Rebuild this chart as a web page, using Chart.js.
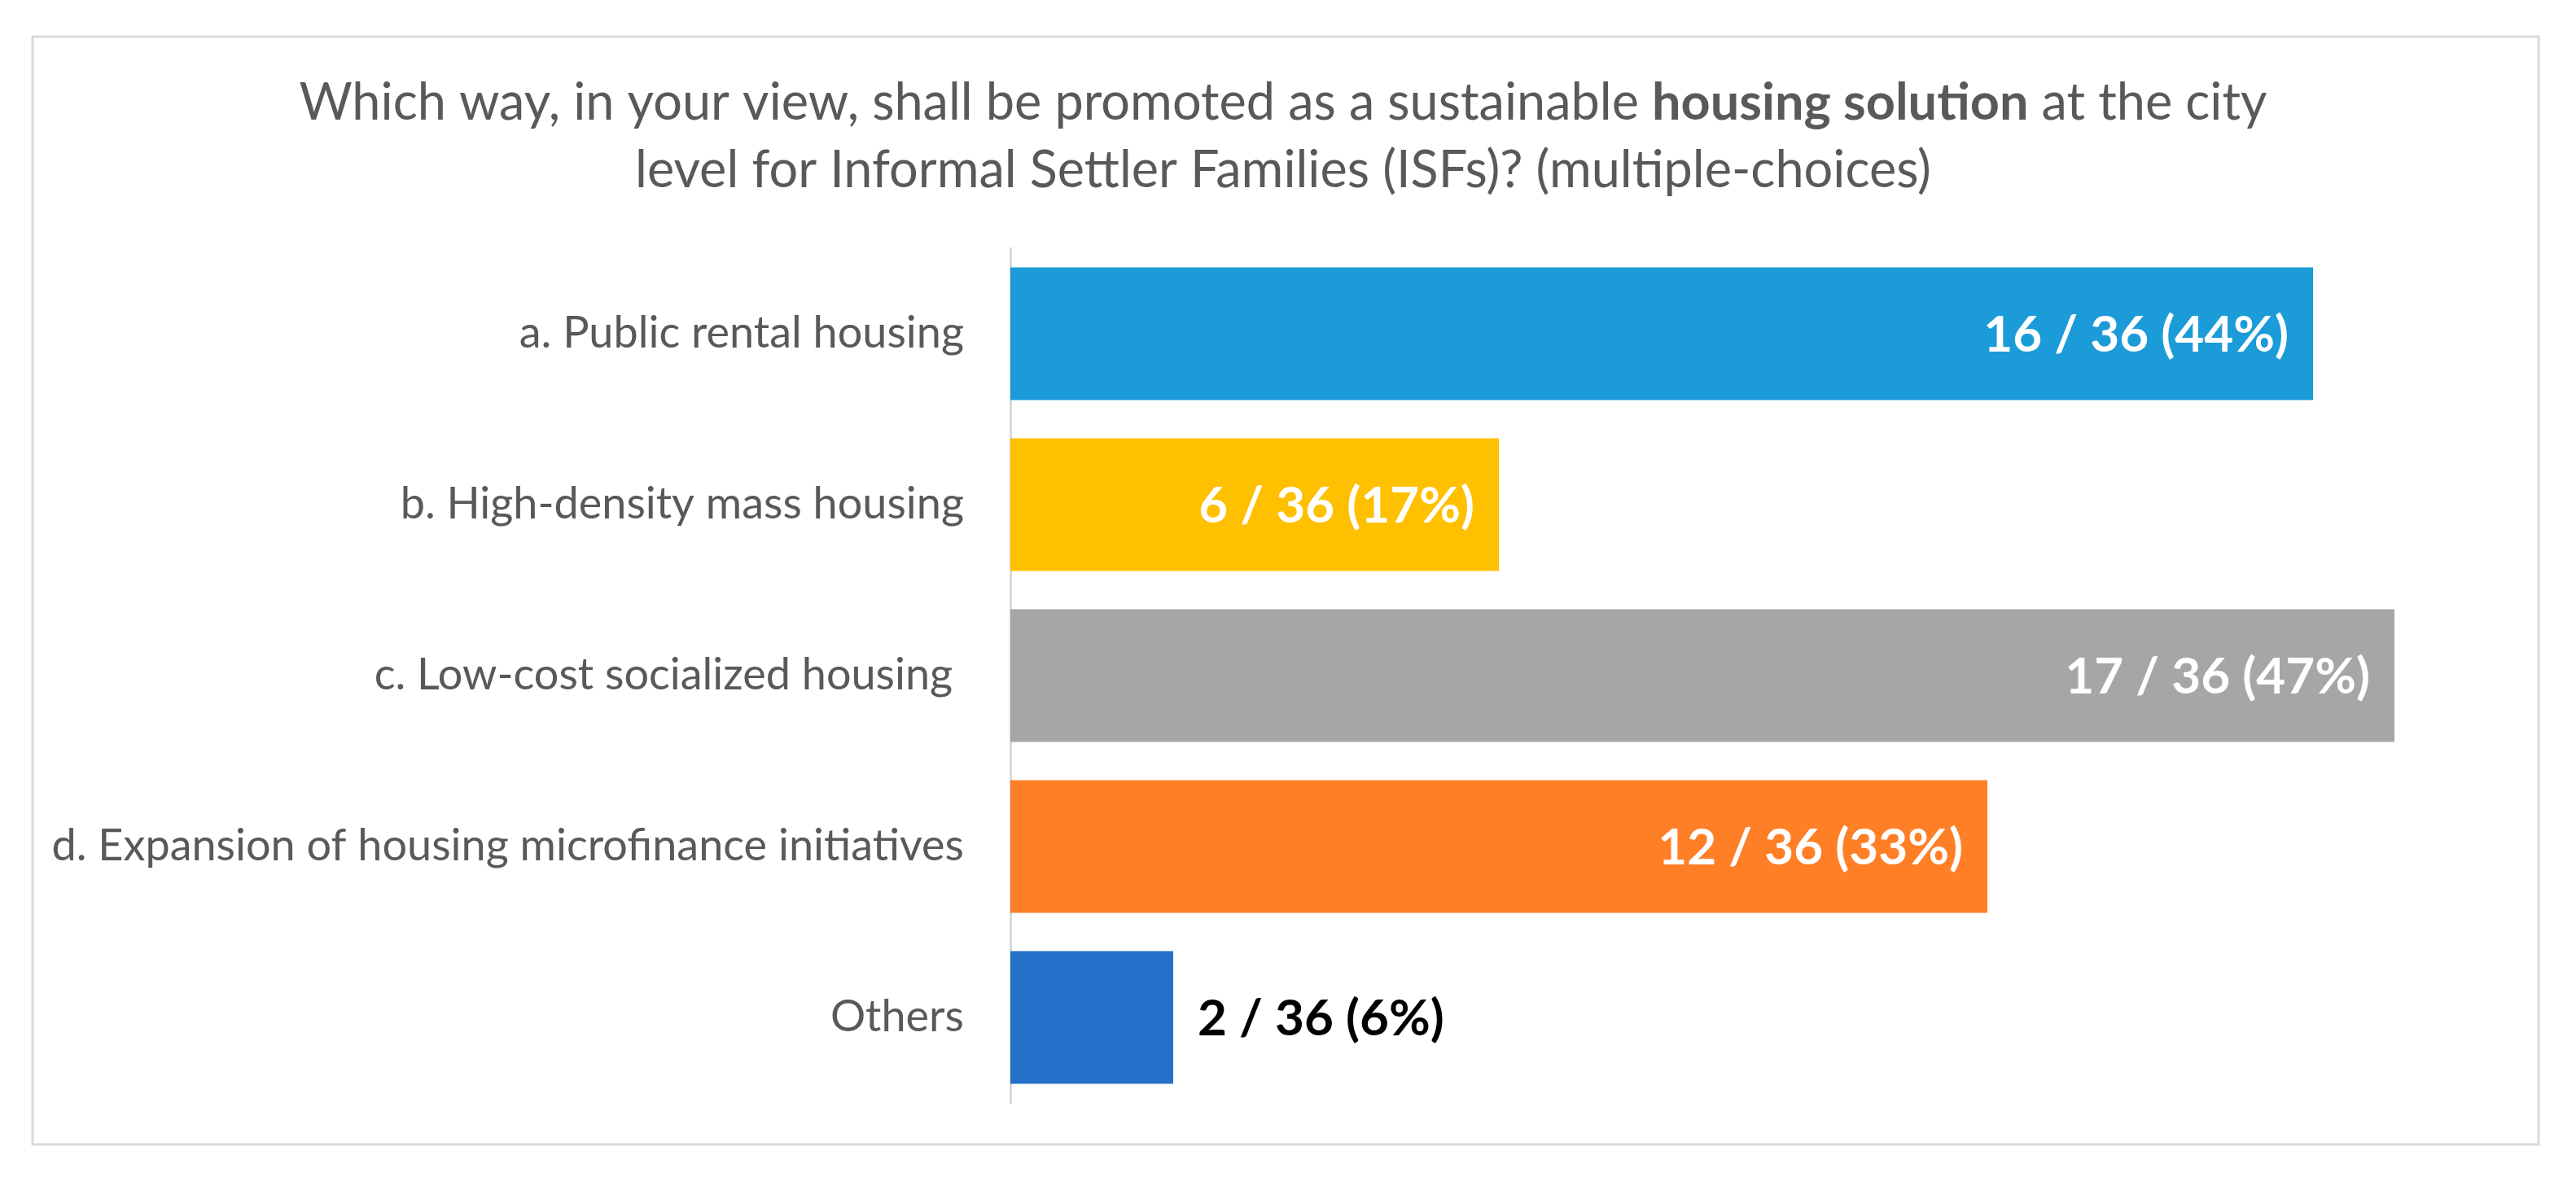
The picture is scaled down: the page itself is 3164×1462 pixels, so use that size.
<!DOCTYPE html>
<html>
<head>
<meta charset="utf-8">
<script src="https://cdn.jsdelivr.net/npm/chart.js@4.4.1/dist/chart.umd.min.js"></script>
<style>
  html, body { margin: 0; padding: 0; background: #ffffff; }
  #wrap { width: 3164px; height: 1462px; position: relative; }
  canvas { display: block; }
</style>
</head>
<body>
<div id="wrap"><canvas id="chart" width="3164" height="1462"></canvas></div>
<script>
// ---- data ----
const categories = [
  "a. Public rental housing",
  "b. High-density mass housing",
  "c. Low-cost socialized housing ",
  "d. Expansion of housing microfinance initiatives",
  "Others"
];
const responses = [16, 6, 17, 12, 2];
const totalRespondents = 36;
const barColors = ["#1B9BD7", "#FFC000", "#A6A6A6", "#FF7F27", "#2570C8"];
const titleLine1 = [
  ["Which way, in your view, shall be promoted as a sustainable ", false],
  ["housing solution", true],
  [" at the city", false]
];
const titleLine2 = [["level for Informal Settler Families (ISFs)? (multiple-choices)", false]];
const axisMin = 0;
const axisMax = 18;

// ---- styles ----
const FONT = "Lato";
const TEXT_GRAY = "#595959";

function dataLabel(v) {
  return v + " / " + totalRespondents + " (" + Math.round(v / totalRespondents * 100) + "%)";
}

const frameAndTitle = {
  id: "frameAndTitle",
  beforeDraw(chart) {
    const ctx = chart.ctx;
    ctx.save();
    ctx.fillStyle = "#ffffff";
    ctx.fillRect(0, 0, chart.width, chart.height);
    ctx.strokeStyle = "#D9D9D9";
    ctx.lineWidth = 3;
    ctx.strokeRect(40, 45, 3078, 1361);
    ctx.restore();
  },
  afterDraw(chart) {
    const ctx = chart.ctx;
    ctx.save();
    ctx.fillStyle = TEXT_GRAY;
    ctx.textBaseline = "alphabetic";
    ctx.textAlign = "left";
    const size = 63;
    const lines = [[titleLine1, 147], [titleLine2, 230]];
    const cx = 1576;
    for (const [segs, base] of lines) {
      let total = 0;
      const widths = segs.map(([t, b]) => {
        ctx.font = (b ? "bold " : "") + size + "px " + FONT;
        const w = ctx.measureText(t).width;
        total += w;
        return w;
      });
      let x = cx - total / 2;
      segs.forEach(([t, b], i) => {
        ctx.font = (b ? "bold " : "") + size + "px " + FONT;
        ctx.fillText(t, x, base);
        x += widths[i];
      });
    }
    ctx.restore();
  }
};

const barLabels = {
  id: "barLabels",
  afterDatasetsDraw(chart) {
    const ctx = chart.ctx;
    const meta = chart.getDatasetMeta(0);
    ctx.save();
    ctx.font = "bold 62px " + FONT;
    ctx.textBaseline = "middle";
    meta.data.forEach((bar, i) => {
      const txt = dataLabel(responses[i]);
      const w = ctx.measureText(txt).width;
      const barW = bar.x - bar.base;
      if (w + 64 < barW) {
        ctx.fillStyle = "#ffffff";
        ctx.textAlign = "right";
        ctx.fillText(txt, bar.x - 30, bar.y + 2);
      } else {
        ctx.fillStyle = "#000000";
        ctx.textAlign = "left";
        ctx.fillText(txt, bar.x + 30, bar.y + 2);
      }
    });
    ctx.restore();
  }
};

function start() {
  new Chart(document.getElementById("chart"), {
    type: "bar",
    data: {
      labels: categories,
      datasets: [{
        data: responses,
        backgroundColor: barColors,
        borderWidth: 0,
        barPercentage: 1.0,
        categoryPercentage: 0.776
      }]
    },
    options: {
      indexAxis: "y",
      responsive: false,
      animation: false,
      devicePixelRatio: 1,
      layout: { padding: { top: 305, bottom: 107, left: 40, right: 123 } },
      plugins: {
        legend: { display: false },
        tooltip: { enabled: false },
        title: { display: false }
      },
      scales: {
        x: {
          display: false,
          min: axisMin,
          max: axisMax
        },
        y: {
          grid: { display: false, drawTicks: false },
          border: { display: true, color: "#D9D9D9", width: 3 },
          ticks: {
            color: TEXT_GRAY,
            font: { family: FONT, size: 54 },
            padding: 57,
            autoSkip: false
          },
          afterFit(scale) { scale.width = 1201; }
        }
      }
    },
    plugins: [frameAndTitle, barLabels]
  });
}

Promise.all([
  document.fonts.load("54px Lato"),
  document.fonts.load("63px Lato"),
  document.fonts.load("bold 63px Lato"),
  document.fonts.load("bold 62px Lato")
]).then(start, start);
</script>
</body>
</html>
